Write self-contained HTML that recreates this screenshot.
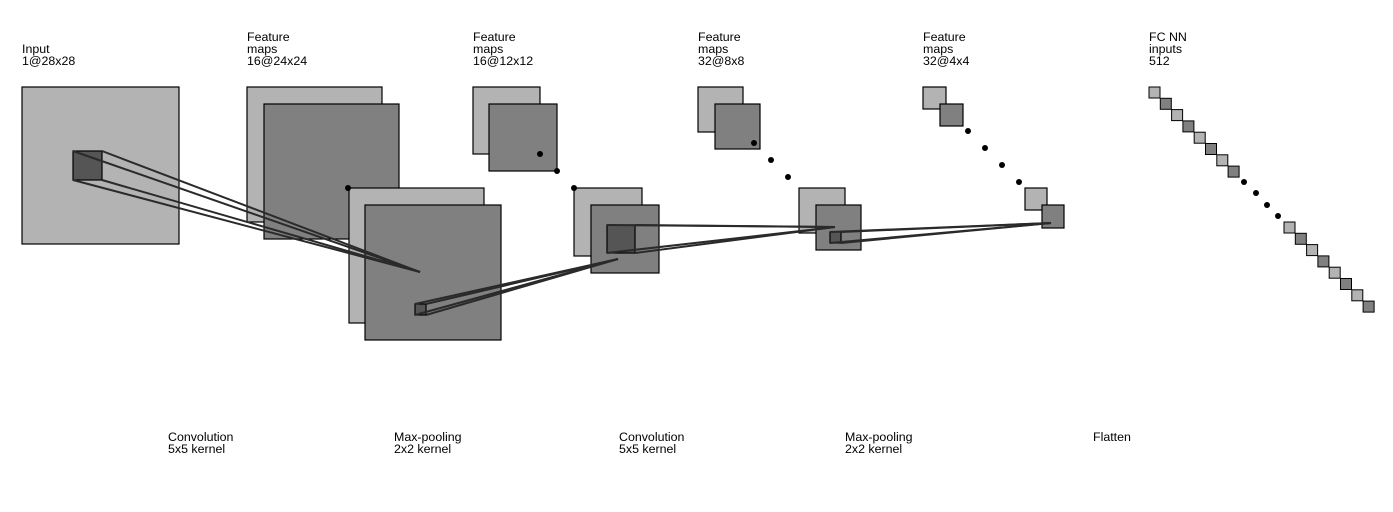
<!DOCTYPE html>
<html><head><meta charset="utf-8"><style>
body{margin:0;background:#fff;}
svg text{font-family:"Liberation Sans",sans-serif;font-size:12.4px;fill:#000;}
</style></head><body>
<svg width="1393" height="507" xmlns="http://www.w3.org/2000/svg">
<g stroke="#000" stroke-width="1.2">
<rect x="22" y="87" width="157" height="157" fill="#b3b3b3"/>
<rect x="73" y="151" width="29" height="29" fill="#555"/>
<rect x="247" y="87" width="135" height="135" fill="#b3b3b3"/>
<rect x="264" y="104" width="135" height="135" fill="#808080"/>
<rect x="349" y="188" width="135" height="135" fill="#b3b3b3"/>
<rect x="365" y="205" width="136" height="135" fill="#808080"/>
<rect x="415" y="304" width="11" height="11" fill="#555"/>
<rect x="473" y="87" width="67" height="67" fill="#b3b3b3"/>
<rect x="489" y="104" width="68" height="67" fill="#808080"/>
<rect x="574" y="188" width="68" height="68" fill="#b3b3b3"/>
<rect x="591" y="205" width="68" height="68" fill="#808080"/>
<rect x="607" y="225" width="28" height="28" fill="#555"/>
<rect x="698" y="87" width="45" height="45" fill="#b3b3b3"/>
<rect x="715" y="104" width="45" height="45" fill="#808080"/>
<rect x="799" y="188" width="46" height="45" fill="#b3b3b3"/>
<rect x="816" y="205" width="45" height="45" fill="#808080"/>
<rect x="830" y="232" width="11" height="11" fill="#555"/>
<rect x="923" y="87" width="23" height="22" fill="#b3b3b3"/>
<rect x="940" y="104" width="23" height="22" fill="#808080"/>
<rect x="1025" y="188" width="22" height="22" fill="#b3b3b3"/>
<rect x="1042" y="205" width="22" height="23" fill="#808080"/>
</g>
<g stroke="#000" stroke-width="1">
<rect x="1149" y="87" width="11" height="11" fill="#b3b3b3"/>
<rect x="1160.3" y="98.3" width="11" height="11" fill="#808080"/>
<rect x="1171.6" y="109.6" width="11" height="11" fill="#b3b3b3"/>
<rect x="1182.9" y="120.9" width="11" height="11" fill="#808080"/>
<rect x="1194.2" y="132.2" width="11" height="11" fill="#b3b3b3"/>
<rect x="1205.5" y="143.5" width="11" height="11" fill="#808080"/>
<rect x="1216.8" y="154.8" width="11" height="11" fill="#b3b3b3"/>
<rect x="1228.1" y="166.1" width="11" height="11" fill="#808080"/>
<rect x="1284" y="222" width="11" height="11" fill="#b3b3b3"/>
<rect x="1295.3" y="233.3" width="11" height="11" fill="#808080"/>
<rect x="1306.6" y="244.6" width="11" height="11" fill="#b3b3b3"/>
<rect x="1317.9" y="255.9" width="11" height="11" fill="#808080"/>
<rect x="1329.2" y="267.2" width="11" height="11" fill="#b3b3b3"/>
<rect x="1340.5" y="278.5" width="11" height="11" fill="#808080"/>
<rect x="1351.8" y="289.8" width="11" height="11" fill="#b3b3b3"/>
<rect x="1363.1" y="301.1" width="11" height="11" fill="#808080"/>
</g>
<g stroke="#2a2a2a" stroke-width="2">
<line x1="73" y1="151" x2="420" y2="272"/>
<line x1="102" y1="151" x2="420" y2="272"/>
<line x1="73" y1="180" x2="420" y2="272"/>
<line x1="102" y1="180" x2="420" y2="272"/>
<line x1="415" y1="304" x2="618" y2="259"/>
<line x1="426" y1="304" x2="618" y2="259"/>
<line x1="415" y1="315" x2="618" y2="259"/>
<line x1="426" y1="315" x2="618" y2="259"/>
<line x1="607" y1="225" x2="835" y2="227"/>
<line x1="635" y1="225" x2="835" y2="227"/>
<line x1="607" y1="253" x2="835" y2="227"/>
<line x1="635" y1="253" x2="835" y2="227"/>
<line x1="830" y1="232" x2="1051" y2="223"/>
<line x1="841" y1="232" x2="1051" y2="223"/>
<line x1="830" y1="243" x2="1051" y2="223"/>
<line x1="841" y1="243" x2="1051" y2="223"/>
</g>
<g fill="#000">
<circle cx="348" cy="188" r="3"/>
<circle cx="540" cy="154" r="3"/><circle cx="557" cy="171" r="3"/><circle cx="574" cy="188" r="3"/>
<circle cx="754" cy="143" r="3"/><circle cx="771" cy="160" r="3"/><circle cx="788" cy="177" r="3"/>
<circle cx="968" cy="131" r="3"/><circle cx="985" cy="148" r="3"/><circle cx="1002" cy="165" r="3"/><circle cx="1019" cy="182" r="3"/>
<circle cx="1244" cy="182" r="3"/><circle cx="1256" cy="193" r="3"/><circle cx="1267" cy="205" r="3"/><circle cx="1278" cy="216" r="3"/>
</g>
<text x="22" y="53">Input</text><text x="22" y="65">1@28x28</text>
<text x="247" y="41">Feature</text><text x="247" y="53">maps</text><text x="247" y="65">16@24x24</text>
<text x="473" y="41">Feature</text><text x="473" y="53">maps</text><text x="473" y="65">16@12x12</text>
<text x="698" y="41">Feature</text><text x="698" y="53">maps</text><text x="698" y="65">32@8x8</text>
<text x="923" y="41">Feature</text><text x="923" y="53">maps</text><text x="923" y="65">32@4x4</text>
<text x="1149" y="41">FC NN</text><text x="1149" y="53">inputs</text><text x="1149" y="65">512</text>
<text x="168" y="441">Convolution</text><text x="168" y="453">5x5 kernel</text>
<text x="394" y="441">Max-pooling</text><text x="394" y="453">2x2 kernel</text>
<text x="619" y="441">Convolution</text><text x="619" y="453">5x5 kernel</text>
<text x="845" y="441">Max-pooling</text><text x="845" y="453">2x2 kernel</text>
<text x="1093" y="441">Flatten</text>
</svg>
</body></html>
